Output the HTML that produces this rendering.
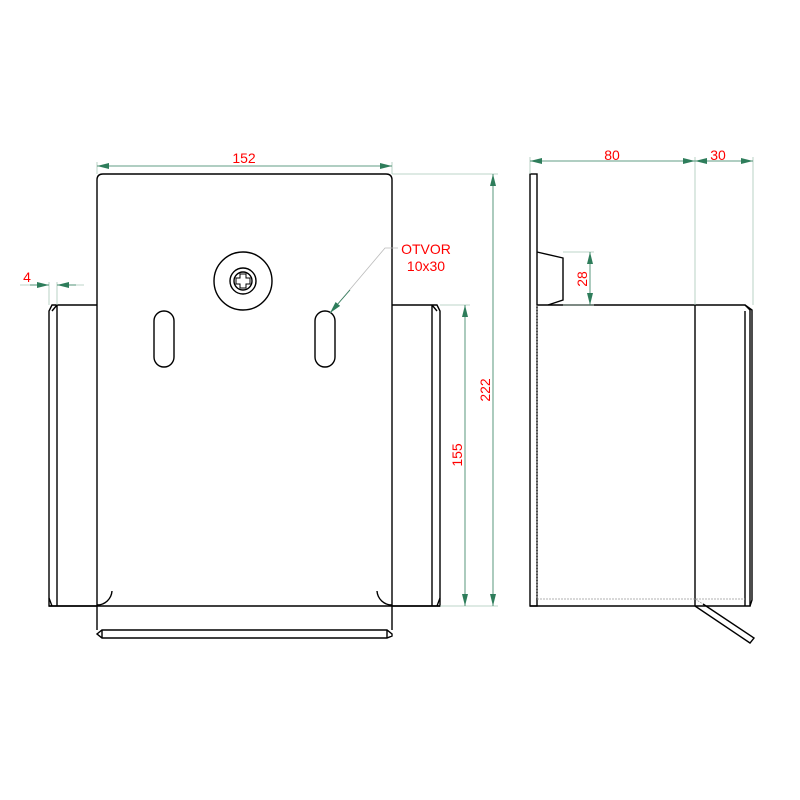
<!DOCTYPE html>
<html><head><style>body{margin:0;background:#fff}svg{display:block}</style></head><body>
<svg width="800" height="800" viewBox="0 0 800 800" xmlns="http://www.w3.org/2000/svg" font-family="Liberation Sans, sans-serif">
<defs>
<marker id="a" markerWidth="12" markerHeight="6" refX="12" refY="3" orient="auto" markerUnits="userSpaceOnUse"><path d="M0,0 L12,3 L0,6 Z" fill="#2e7d5b"/></marker>
</defs>
<g fill="none" stroke="#000" stroke-width="1.4">
<path d="M97,305 H52 L49,311 V606 H97"/>
<path d="M57,305 V606 M49,598 L52,606 M57,305 L52,311"/>
<path d="M392,305 H437 L440,311 V606 H392"/>
<path d="M432,305 V606 M440,598 L437,606 M432,305 L437,311"/>
<path d="M97,630 V180 Q97,174 103,174 H386 Q392,174 392,180 V630"/>
<path d="M49,606 H440"/>
<path d="M97,605 A15,15 0 0 0 112,591 M392,605 A15,15 0 0 1 377,591"/>
<path d="M102,630 H387 L392,634 V636 L387,638 H102 L97,634 Z"/>
<path d="M102,630 V638 M387,630 V638"/>
<circle cx="243" cy="281" r="29"/>
<circle cx="243" cy="281" r="13"/>
<circle cx="243" cy="281" r="9"/>
<path d="M240,274 H246 V278 H250 V284 H246 V288 H240 V284 H236 V278 H240 Z" stroke-width="1"/>
<rect x="154" y="311" width="20" height="56" rx="10"/>
<rect x="315" y="311" width="20" height="56" rx="10"/>
<rect x="530" y="174" width="7" height="432"/>
<path d="M537,252 L563,258 V300 L548,305"/>
<path d="M537,305 H745 L750,310 V606 H530"/>
<path d="M745,305 L752,310 V600 L750,606 M745,311 V606"/>
<path d="M695,305 V606"/>
<path d="M695,606 L750,643 L754,638 L703,604"/>
</g>
<g fill="none" stroke="#999" stroke-width="0.7" stroke-dasharray="2,1">
<path d="M537,305 V599 H745"/>
<path d="M695,599 L703,604"/>
</g>
<g fill="none" stroke="#a8c8b8" stroke-width="0.8">
<path d="M97,162 V174 M392,162 V174"/>
<path d="M392,174 H498 M440,305 H470 M440,606 H498"/>
<path d="M49,282 V305 M57,282 V305 M20,285 H49 M57,285 H84"/>
<path d="M530,157 V174 M695,157 V305 M753,157 V305"/>
<path d="M563,252 H594 M563,305 H594"/>
<path d="M330,313 L385,248 H398" stroke="#bbb"/>
</g>
<g stroke="#2e7d5b" stroke-width="0.8" fill="none">
<line x1="245" y1="166" x2="97" y2="166" marker-end="url(#a)"/>
<line x1="245" y1="166" x2="392" y2="166" marker-end="url(#a)"/>
<line x1="493" y1="390" x2="493" y2="174" marker-end="url(#a)"/>
<line x1="493" y1="390" x2="493" y2="606" marker-end="url(#a)"/>
<line x1="465" y1="455" x2="465" y2="305" marker-end="url(#a)"/>
<line x1="465" y1="455" x2="465" y2="606" marker-end="url(#a)"/>
<line x1="30" y1="285" x2="49" y2="285" marker-end="url(#a)"/>
<line x1="76" y1="285" x2="57" y2="285" marker-end="url(#a)"/>
<line x1="612" y1="161" x2="530" y2="161" marker-end="url(#a)"/>
<line x1="612" y1="161" x2="695" y2="161" marker-end="url(#a)"/>
<line x1="724" y1="161" x2="695" y2="161" marker-end="url(#a)"/>
<line x1="724" y1="161" x2="753" y2="161" marker-end="url(#a)"/>
<line x1="590" y1="278" x2="590" y2="252" marker-end="url(#a)"/>
<line x1="590" y1="278" x2="590" y2="305" marker-end="url(#a)"/>
<line x1="350" y1="290" x2="330" y2="313" marker-end="url(#a)"/>
</g>
<g fill="#ff0000" font-size="14">
<text x="244" y="163" text-anchor="middle">152</text>
<text x="27" y="282" text-anchor="middle">4</text>
<text x="612" y="160" text-anchor="middle">80</text>
<text x="718" y="160" text-anchor="middle">30</text>
<text x="426" y="254" text-anchor="middle">OTVOR</text>
<text x="426" y="271" text-anchor="middle">10x30</text>
<text transform="translate(490,390) rotate(-90)" text-anchor="middle">222</text>
<text transform="translate(462,455) rotate(-90)" text-anchor="middle">155</text>
<text transform="translate(587,279) rotate(-90)" text-anchor="middle">28</text>
</g>
</svg>
</body></html>
